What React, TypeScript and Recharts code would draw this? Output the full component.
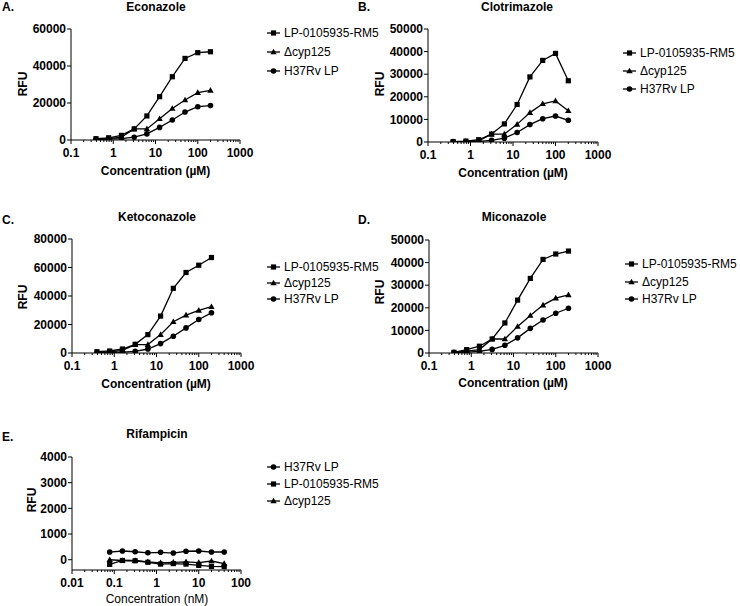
import React from "react";
import { LineChart, Line, XAxis, YAxis } from "recharts";

// concentrations (two-fold dilutions)
const azoleConc = [0.39, 0.78, 1.56, 3.125, 6.25, 12.5, 25, 50, 100, 200];
const rifConc = [0.078, 0.156, 0.3125, 0.625, 1.25, 2.5, 5, 10, 20, 40];

const azoleXTicks = [0.1, 1, 10, 100, 1000];
const rifXTicks = [0.01, 0.1, 1, 10, 100];

const econRm5 = [700, 1200, 2500, 6000, 13000, 23400, 34200, 44100, 47200, 47700];
const econCyp = [400, 700, 1500, 6000, 6000, 11500, 17000, 21600, 25600, 26800];
const econH37 = [300, 500, 700, 1500, 3300, 6800, 10800, 15100, 18000, 18600];

const clotRm5 = [200, 400, 1000, 3500, 8000, 16600, 28800, 36100, 39200, 27100];
const clotCyp = [100, 200, 500, 3500, 3500, 7800, 13000, 16900, 18200, 13800];
const clotH37 = [100, 200, 300, 700, 1700, 4200, 7700, 10300, 11500, 9600];

const ketoRm5 = [900, 1400, 2800, 6100, 12900, 25900, 45400, 56500, 61600, 67000];
const ketoCyp = [300, 600, 1800, 5900, 5900, 12900, 21900, 26600, 29900, 32500];
const ketoH37 = [300, 400, 600, 1200, 2800, 6600, 11800, 17600, 23500, 28200];

const micoRm5 = [300, 1500, 3000, 6200, 13300, 23400, 33000, 41400, 43800, 45100];
const micoCyp = [200, 800, 1500, 6200, 6200, 11700, 16600, 21200, 24300, 25700];
const micoH37 = [200, 400, 700, 1600, 3400, 6700, 10900, 14600, 17600, 19800];

const rifH37 = [300, 340, 310, 270, 290, 260, 330, 340, 300, 300];
const rifRm5 = [-180, -30, -40, -100, -170, -150, -170, -220, -260, -270];
const rifCyp = [0, -30, -30, -80, -120, -100, -80, -110, -50, -150];

const RM5 = "LP-0105935-RM5";
const CYP = "\u0394cyp125";
const H37 = "H37Rv LP";

type Shape = "square" | "triangle" | "circle";
interface Series { name: string; shape: Shape; values: number[] }
interface PanelDef {
  tag: string; title: string; xLabel: string; xLabelBold: boolean;
  conc: number[]; xTicks: number[];
  yDomain: [number, number]; yTicks: number[];
  series: Series[];
  plot: { left: number; right: number; top: number; bottom: number };
  tagPos: [number, number]; titlePos: [number, number];
  rfuPos: [number, number]; xLabelPos: [number, number];
  legendX: number; legendY: number[];
}

const FONT = "'Liberation Sans', Arial, sans-serif";

function Marker({ shape, cx, cy }: { shape: Shape; cx: number; cy: number }) {
  if (shape === "square") return <rect x={cx - 2.6} y={cy - 2.6} width={5.2} height={5.2} fill="#000" />;
  if (shape === "triangle")
    return <polygon points={`${cx},${cy - 3.3} ${cx + 3.2},${cy + 2.3} ${cx - 3.2},${cy + 2.3}`} fill="#000" />;
  return <circle cx={cx} cy={cy} r={2.8} fill="#000" />;
}

function minorTicks(majors: number[]) {
  const out: number[] = [];
  majors.forEach((m, i) => {
    out.push(m);
    if (i < majors.length - 1) for (let k = 2; k < 10; k++) out.push(m * k);
  });
  return out;
}

const panels: PanelDef[] = [
  {
    tag: "A.", title: "Econazole", xLabel: "Concentration (\u00b5M)", xLabelBold: true,
    conc: azoleConc, xTicks: azoleXTicks, yDomain: [0, 60000], yTicks: [0, 20000, 40000, 60000],
    series: [
      { name: RM5, shape: "square", values: econRm5 },
      { name: CYP, shape: "triangle", values: econCyp },
      { name: H37, shape: "circle", values: econH37 },
    ],
    plot: { left: 71, right: 240, top: 29, bottom: 140 },
    tagPos: [2, 7], titlePos: [156, 7], rfuPos: [23, 84], xLabelPos: [155.5, 171],
    legendX: 267, legendY: [33, 52, 71],
  },
  {
    tag: "B.", title: "Clotrimazole", xLabel: "Concentration (\u00b5M)", xLabelBold: true,
    conc: azoleConc, xTicks: azoleXTicks, yDomain: [0, 50000], yTicks: [0, 10000, 20000, 30000, 40000, 50000],
    series: [
      { name: RM5, shape: "square", values: clotRm5 },
      { name: CYP, shape: "triangle", values: clotCyp },
      { name: H37, shape: "circle", values: clotH37 },
    ],
    plot: { left: 428, right: 598, top: 29, bottom: 142 },
    tagPos: [358, 7], titlePos: [517, 7], rfuPos: [380, 84], xLabelPos: [513, 173],
    legendX: 623, legendY: [53, 71, 89],
  },
  {
    tag: "C.", title: "Ketoconazole", xLabel: "Concentration (\u00b5M)", xLabelBold: true,
    conc: azoleConc, xTicks: azoleXTicks, yDomain: [0, 80000], yTicks: [0, 20000, 40000, 60000, 80000],
    series: [
      { name: RM5, shape: "square", values: ketoRm5 },
      { name: CYP, shape: "triangle", values: ketoCyp },
      { name: H37, shape: "circle", values: ketoH37 },
    ],
    plot: { left: 72, right: 241, top: 239, bottom: 353 },
    tagPos: [2, 220], titlePos: [157, 217], rfuPos: [23, 297], xLabelPos: [156, 384],
    legendX: 267, legendY: [267, 283, 299],
  },
  {
    tag: "D.", title: "Miconazole", xLabel: "Concentration (\u00b5M)", xLabelBold: true,
    conc: azoleConc, xTicks: azoleXTicks, yDomain: [0, 50000], yTicks: [0, 10000, 20000, 30000, 40000, 50000],
    series: [
      { name: RM5, shape: "square", values: micoRm5 },
      { name: CYP, shape: "triangle", values: micoCyp },
      { name: H37, shape: "circle", values: micoH37 },
    ],
    plot: { left: 429, right: 598, top: 240, bottom: 353 },
    tagPos: [358, 220], titlePos: [514, 217], rfuPos: [380, 292], xLabelPos: [513, 383],
    legendX: 625, legendY: [264, 282, 299],
  },
  {
    tag: "E.", title: "Rifampicin", xLabel: "Concentration (nM)", xLabelBold: false,
    conc: rifConc, xTicks: rifXTicks, yDomain: [-400, 4000], yTicks: [0, 1000, 2000, 3000, 4000],
    series: [
      { name: H37, shape: "circle", values: rifH37 },
      { name: RM5, shape: "square", values: rifRm5 },
      { name: CYP, shape: "triangle", values: rifCyp },
    ],
    plot: { left: 72, right: 241, top: 457, bottom: 570 },
    tagPos: [2, 437], titlePos: [157, 434], rfuPos: [32, 500], xLabelPos: [157, 599],
    legendX: 267, legendY: [467, 484, 501],
  },
];

const PAD_L = 62, PAD_R = 20, PAD_T = 12, X_H = 28;

function Text({ x, y, children, bold = true, anchor = "middle", rotate = false }: {
  x: number; y: number; children: React.ReactNode; bold?: boolean; anchor?: "start" | "middle"; rotate?: boolean;
}) {
  const tx = anchor === "middle" ? "-50%" : "0";
  return (
    <div style={{
      position: "absolute", left: x, top: y, whiteSpace: "nowrap",
      fontSize: 12, lineHeight: "14px", fontWeight: bold ? "bold" : "normal",
      transform: `translate(${tx}, -50%)${rotate ? " rotate(-90deg)" : ""}`,
      transformOrigin: anchor === "middle" ? "center" : "left center",
    }}>{children}</div>
  );
}

function Panel({ p }: { p: PanelDef }) {
  const width = p.plot.right - p.plot.left + PAD_L + PAD_R;
  const height = p.plot.bottom - p.plot.top + PAD_T + X_H;
  const data = p.conc.map((c, i) => {
    const row: Record<string, number> = { conc: c };
    p.series.forEach((s, k) => { row["s" + k] = s.values[i]; });
    return row;
  });
  const ticks = minorTicks(p.xTicks);
  const isMajor = (v: number) => p.xTicks.some(m => Math.abs(m - v) / m < 1e-6);

  const xTick = (props: any) => {
    const { x, y, payload } = props;
    const v = payload.value as number;
    const major = isMajor(v);
    return (
      <g key={"t" + v}>
        <line x1={x} x2={x} y1={y} y2={y + (major ? 4 : 2)} stroke="#000" strokeWidth={1} />
        {major && (
          <text x={x} y={y + 13} textAnchor="middle" dominantBaseline="central"
            fontSize={12} fontWeight="bold" fill="#000">{String(v)}</text>
        )}
      </g>
    );
  };

  return (
    <>
      <div style={{ position: "absolute", left: p.plot.left - PAD_L, top: p.plot.top - PAD_T }}>
        <LineChart width={width} height={height} data={data}
          margin={{ top: PAD_T, right: PAD_R, bottom: 0, left: 0 }}>
          <XAxis dataKey="conc" type="number" scale="log" domain={[p.xTicks[0], p.xTicks[p.xTicks.length - 1]]}
            ticks={ticks} interval={0} height={X_H} tickSize={0} tickMargin={0}
            stroke="#000" strokeWidth={1} tick={xTick} allowDataOverflow />
          <YAxis type="number" domain={p.yDomain} ticks={p.yTicks} interval={0} width={PAD_L}
            tickSize={4} tickMargin={1} stroke="#000" strokeWidth={1}
            tick={{ fontSize: 12, fontWeight: "bold", fill: "#000" }} allowDataOverflow />
          {p.series.map((s, k) => (
            <Line key={s.name} dataKey={"s" + k} type="linear" stroke="#000" strokeWidth={1.3}
              isAnimationActive={false} activeDot={false}
              dot={(d: any) => <Marker key={s.name + d.index} shape={s.shape} cx={d.cx} cy={d.cy} />} />
          ))}
        </LineChart>
      </div>
      <Text x={p.tagPos[0]} y={p.tagPos[1]} anchor="start">{p.tag}</Text>
      <Text x={p.titlePos[0]} y={p.titlePos[1]}>{p.title}</Text>
      <Text x={p.rfuPos[0]} y={p.rfuPos[1]} rotate>RFU</Text>
      <Text x={p.xLabelPos[0]} y={p.xLabelPos[1]} bold={p.xLabelBold}>{p.xLabel}</Text>
      {p.series.map((s, k) => (
        <React.Fragment key={"lg" + k}>
          <svg style={{ position: "absolute", left: p.legendX, top: p.legendY[k] - 5 }} width={13} height={10}>
            <line x1={0} x2={13} y1={5} y2={5} stroke="#000" strokeWidth={1.3} />
            <Marker shape={s.shape} cx={6.5} cy={5} />
          </svg>
          <Text x={p.legendX + 17} y={p.legendY[k]} bold={false} anchor="start">{s.name}</Text>
        </React.Fragment>
      ))}
    </>
  );
}

export default function App() {
  return (
    <div style={{
      position: "absolute", left: 0, top: 0, width: 740, height: 606,
      background: "#fff", fontFamily: FONT, color: "#000", overflow: "hidden",
    }}>
      {panels.map(p => <Panel key={p.tag} p={p} />)}
    </div>
  );
}
